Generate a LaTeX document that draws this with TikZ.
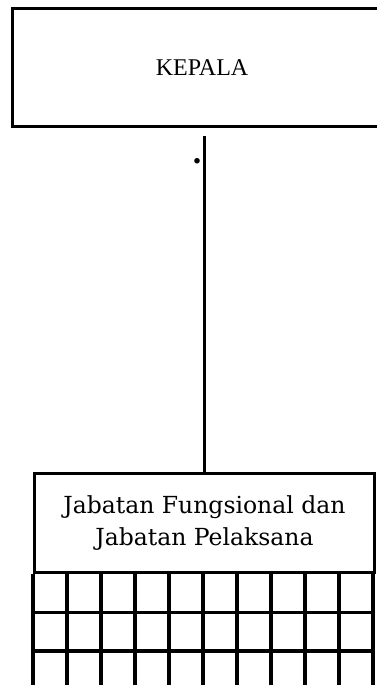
\documentclass[tikz,border=0pt]{standalone}
\usepackage{fontspec}
\setmainfont{Liberation Serif}
\newfontfamily\staffont{DejaVu Serif}
\usetikzlibrary{positioning}
\newcommand{\widthcell}{34pt}
\newcommand{\heightcell}{38.5pt}
\tikzset{
    common/.style={anchor=north west, draw, rectangle, line width=3pt, inner sep=0pt},
    head/.style={common, minimum width=379pt, minimum height=118pt, font=\fontsize{24}{28}\selectfont},
    staff/.style={common, minimum width=340pt, minimum height=99pt, align=center, font=\staffont\fontsize{23.5}{32}\selectfont},
    cellline/.style={line width=3.2pt}
}
\begin{document}
\begin{tikzpicture}[x=1pt, y=1pt]
            \useasboundingbox (0,0) rectangle (377,685);
            \node[head] (kepala) at (11,678) {KEPALA};
            \node[staff] (jabatan) at (33,213) {Jabatan Fungsional dan\\Jabatan Pelaksana};
            \coordinate[yshift=-8pt] (stem) at (jabatan.north |- kepala.south);
            \node[anchor=base, inner sep=0pt, font=\fontsize{34}{36}\selectfont\bfseries] (dot) at (197,521) {.};

            \draw[line width=3pt] (stem) -- (jabatan.north);

            % cells under the staff box
            \foreach \i in {0,...,10}
                \draw[cellline] ([xshift=\i*\widthcell]jabatan.south west) -- ++(0,-130);
            \foreach \j in {1,2}
                \draw[cellline] ([yshift=-\j*\heightcell]jabatan.south west) -- ++(340,0);
        \end{tikzpicture}
\end{document}
